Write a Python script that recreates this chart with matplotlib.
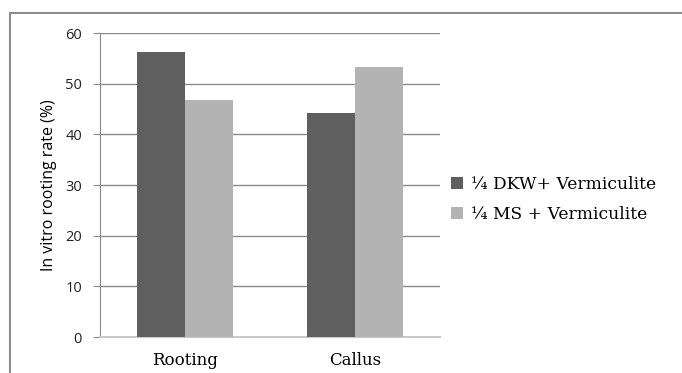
import numpy as np
import matplotlib
matplotlib.use('Agg')
from matplotlib import pyplot as plt
from matplotlib.patches import Rectangle

categories = ['Rooting', 'Callus']
series_names = ['¼ DKW+ Vermiculite', '¼ MS + Vermiculite']
dkw_values = [56.2, 44.2]
ms_values = [46.8, 53.3]
y_ticks = [0, 10, 20, 30, 40, 50, 60]

fig = plt.figure(figsize=(6.82, 3.73), dpi=100)
ax = fig.add_axes([0.1466, 0.0965, 0.4985, 0.815])

x = np.arange(len(categories))
width = 0.282
ax.bar(x - width / 2, dkw_values, width, color='#5f5f5f', label=series_names[0], zorder=3)
ax.bar(x + width / 2, ms_values, width, color='#b3b3b3', label=series_names[1], zorder=3)

ax.set_xlim(-0.5, 1.5)
ax.set_ylim(0, 60)
ax.set_yticks(y_ticks)
ax.yaxis.grid(True, color='#8a8a8a', linewidth=1)
ax.set_axisbelow(True)

for s in ['top', 'right']:
    ax.spines[s].set_visible(False)
ax.spines['left'].set_color('#8a8a8a')
ax.spines['bottom'].set_color('#c8c8c8')
ax.spines['bottom'].set_linewidth(1.5)

ax.set_xticks(x)
ax.set_xticklabels(categories, family='DejaVu Serif', fontsize=12)
ax.tick_params(axis='x', length=0, pad=11)
ax.tick_params(axis='y', length=5, color='#8a8a8a', labelsize=10.5, labelcolor='#222222', pad=8)
for lbl in ax.get_yticklabels():
    lbl.set_family('Open Sans')

ax.set_ylabel('In vitro rooting rate (%)', family='Open Sans', fontsize=11.5, labelpad=6)

leg = fig.legend(loc='center left', bbox_to_anchor=(0.662, 0.465), frameon=False,
                 prop={'family': 'DejaVu Serif', 'size': 12.3},
                 handlelength=0.65, handleheight=0.65, handletextpad=0.5, labelspacing=0.75,
                 borderaxespad=0, borderpad=0)

fig.patches.append(Rectangle((10 / 682, -0.1), 1.2, (373 - 13) / 373 + 0.1,
                             transform=fig.transFigure, fill=False,
                             edgecolor='#8c8c8c', linewidth=1.5))

fig.savefig('out.png', dpi=100)
